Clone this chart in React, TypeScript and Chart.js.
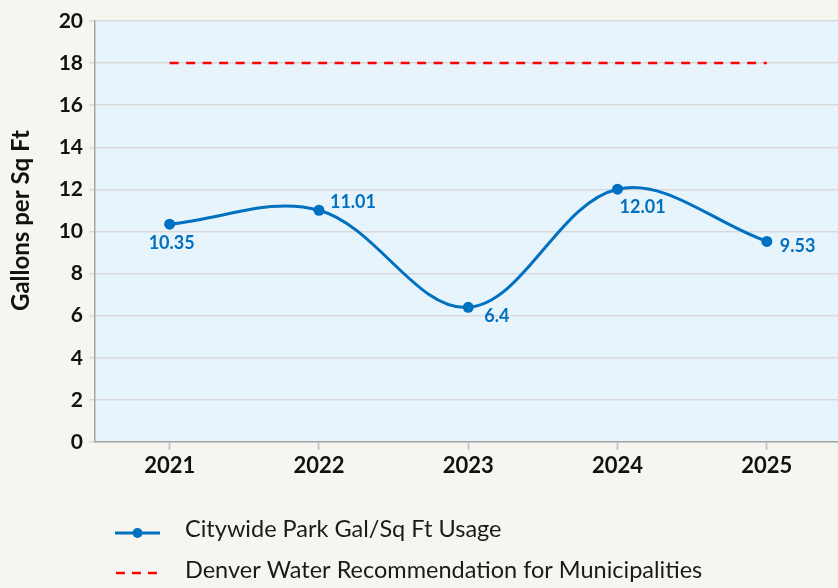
import React, { useEffect, useRef } from "react";
import { Chart, registerables } from "chart.js";

Chart.register(...registerables);

const years = ["2021", "2022", "2023", "2024", "2025"];
const usage = [10.35, 11.01, 6.4, 12.01, 9.53];
const recommendation = [18, 18, 18, 18, 18];
const usageLabels = ["10.35", "11.01", "6.4", "12.01", "9.53"];
const yTicks = [0, 2, 4, 6, 8, 10, 12, 14, 16, 18, 20];
const yTitle = "Gallons per Sq Ft";

const FONT = "Lato, 'Noto Sans', sans-serif";
const BLUE = "#0070c0";
const RED = "#ff0000";
const PAGE_BG = "#f6f6f1";
const PLOT_BG = "#e8f4fc";

// label placement relative to each point: [dx, dy, align]
const labelPlacement: [number, number, CanvasTextAlign][] = [
  [2, 19, "center"],
  [11, -8, "left"],
  [16, 9, "left"],
  [2, 18, "left"],
  [13, 5, "left"],
];

const plotBgPlugin = {
  id: "plotBg",
  beforeDraw(chart: any) {
    const { ctx, chartArea } = chart;
    ctx.save();
    ctx.fillStyle = PLOT_BG;
    ctx.fillRect(chartArea.left, chartArea.top, chartArea.right - chartArea.left + 10, chartArea.bottom - chartArea.top);
    ctx.restore();
  },
};

const labelsPlugin = {
  id: "pointLabels",
  afterDatasetsDraw(chart: any) {
    const { ctx } = chart;
    const meta = chart.getDatasetMeta(0);
    ctx.save();
    ctx.fillStyle = BLUE;
    ctx.font = `bold 18px ${FONT}`;
    ctx.textBaseline = "middle";
    meta.data.forEach((pt: any, i: number) => {
      const [dx, dy, align] = labelPlacement[i];
      ctx.textAlign = align;
      ctx.fillText(usageLabels[i], pt.x + dx, pt.y + dy);
    });
    ctx.restore();
  },
};

const yTitlePlugin = {
  id: "yTitle",
  afterDraw(chart: any) {
    const { ctx, chartArea } = chart;
    ctx.save();
    ctx.translate(21, (chartArea.top + chartArea.bottom) / 2 - 11);
    ctx.rotate(-Math.PI / 2);
    ctx.fillStyle = "#111111";
    ctx.font = `bold 24px ${FONT}`;
    ctx.textAlign = "center";
    ctx.textBaseline = "middle";
    ctx.fillText(yTitle, 0, 0);
    ctx.restore();
  },
};

const legendPlugin = {
  id: "customLegend",
  afterDraw(chart: any) {
    const { ctx } = chart;
    ctx.save();
    const x0 = 115;
    const x1 = 160;
    const y1 = 533;
    const y2 = 573;
    ctx.strokeStyle = BLUE;
    ctx.lineWidth = 3;
    ctx.beginPath();
    ctx.moveTo(x0, y1);
    ctx.lineTo(x1, y1);
    ctx.stroke();
    ctx.fillStyle = BLUE;
    ctx.beginPath();
    ctx.arc((x0 + x1) / 2, y1, 5, 0, Math.PI * 2);
    ctx.fill();
    ctx.strokeStyle = RED;
    ctx.lineWidth = 2.5;
    ctx.setLineDash([9, 7]);
    ctx.beginPath();
    ctx.moveTo(x0 + 1, y2);
    ctx.lineTo(x1, y2);
    ctx.stroke();
    ctx.setLineDash([]);
    ctx.fillStyle = "#1a1a1a";
    ctx.font = `23.5px ${FONT}`;
    ctx.textAlign = "left";
    ctx.textBaseline = "alphabetic";
    ctx.fillText(chart.data.datasets[0].label, 185, 537);
    ctx.fillText(chart.data.datasets[1].label, 185, 578);
    ctx.restore();
  },
};

export default function App() {
  const ref = useRef<HTMLCanvasElement>(null);
  useEffect(() => {
    document.body.style.margin = "0";
    document.body.style.background = PAGE_BG;
    const chart = new Chart(ref.current!, {
      type: "line",
      data: {
        labels: years,
        datasets: [
          {
            label: "Citywide Park Gal/Sq Ft Usage",
            data: usage,
            borderColor: BLUE,
            backgroundColor: BLUE,
            borderWidth: 3,
            pointRadius: 5.5,
            pointHoverRadius: 5.5,
            pointBackgroundColor: BLUE,
            pointBorderWidth: 0,
            tension: 0.36,
          },
          {
            label: "Denver Water Recommendation for Municipalities",
            data: recommendation,
            borderColor: RED,
            borderWidth: 2.5,
            borderDash: [9, 7.5],
            pointRadius: 0,
            tension: 0,
          },
        ],
      },
      options: {
        animation: false,
        responsive: false,
        devicePixelRatio: 1,
        layout: { padding: { top: 21, bottom: 96, left: 0, right: 0 } },
        plugins: { legend: { display: false }, tooltip: { enabled: false } },
        scales: {
          x: {
            offset: true,
            afterFit: (s: any) => {
              s.height = 50;
            },
            grid: {
              display: true,
              drawOnChartArea: false,
              tickLength: 8,
              tickColor: "#c8c8c8",
              tickWidth: 2,
            },
            border: { display: true, color: "#a6a6a6", width: 1.5 },
            ticks: {
              color: "#111111",
              font: { family: FONT, size: 22, weight: "bold" },
              padding: 3,
            },
          },
          y: {
            min: 0,
            max: 20,
            afterFit: (s: any) => {
              s.width = 95;
            },
            afterBuildTicks: (s: any) => {
              s.ticks = yTicks.map((v) => ({ value: v }));
            },
            grid: {
              color: "#d9d9d9",
              lineWidth: 1.5,
              tickLength: 6,
              tickColor: "#d9d9d9",
            },
            border: { display: true, color: "#a6a6a6", width: 1.5 },
            ticks: {
              color: "#111111",
              font: { family: FONT, size: 21, weight: "bold" },
              padding: 6,
            },
            title: { display: false },
          },
        },
      },
      plugins: [plotBgPlugin, labelsPlugin, yTitlePlugin, legendPlugin],
    });
    return () => chart.destroy();
  }, []);
  return (
    <div
      style={{
        position: "fixed",
        left: 0,
        top: 0,
        width: 838,
        height: 588,
        overflow: "hidden",
        background: PAGE_BG,
      }}
    >
      <canvas ref={ref} width={847} height={588} style={{ width: 847, height: 588, display: "block" }} />
    </div>
  );
}
